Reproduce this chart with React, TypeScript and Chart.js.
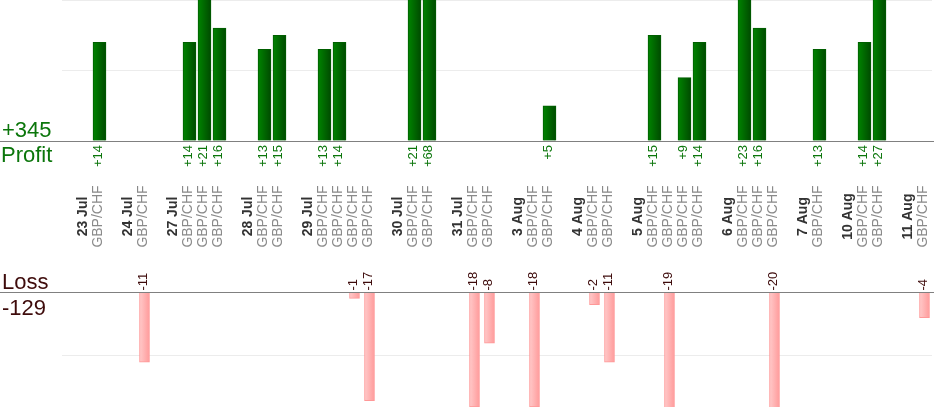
import React, { useEffect, useRef } from "react";
import { Chart, registerables } from "chart.js";

Chart.register(...registerables);

// trading days and the result of each GBP/CHF trade on that day
const dayLabels = [
  "23 Jul", "24 Jul", "27 Jul", "28 Jul", "29 Jul", "30 Jul", "31 Jul",
  "3 Aug", "4 Aug", "5 Aug", "6 Aug", "7 Aug", "10 Aug", "11 Aug",
];
const pairName = "GBP/CHF";
const dayResults = [
  [14], [-11], [14, 21, 16], [13, 15], [13, 14, -1, -17], [21, 68], [-18, -8],
  [-18, 5], [-2, -11], [15, -19, 9, 14], [23, 16, -20], [13], [14, 27], [-4],
];
const profitTicks = [0, 20];
const lossTicks = [-18, 0];

const FONT = "'Liberation Sans', Arial, sans-serif";
const GREEN = "#0b760b";
const MAROON = "#3e0b0b";

type Slot = { kind: "blank" | "date" | "trade"; text: string; value: number | null };

// one blank slot first, then date + trades per day, blank slot between days
const slots: Slot[] = [{ kind: "blank", text: "", value: null }];
dayLabels.forEach((d, i) => {
  slots.push({ kind: "date", text: d, value: null });
  dayResults[i].forEach((v) => slots.push({ kind: "trade", text: pairName, value: v }));
  if (i < dayLabels.length - 1) slots.push({ kind: "blank", text: "", value: null });
});

const allResults = dayResults.flat();
const totalProfit = allResults.filter((v) => v > 0).reduce((a, b) => a + b, 0);
const totalLoss = allResults.filter((v) => v < 0).reduce((a, b) => a + b, 0);

const barFill = (light: string, dark: string, half: number) => (c: any) => {
  const xs = c.chart && c.chart.scales ? c.chart.scales.x : null;
  if (c.type !== "data" || !xs) return dark;
  const cx = xs.getPixelForValue(c.dataIndex);
  if (!Number.isFinite(cx)) return dark;
  const g = c.chart.ctx.createLinearGradient(cx - half, 0, cx + half, 0);
  g.addColorStop(0, light);
  g.addColorStop(1, dark);
  return g;
};

const rotText = (ctx: CanvasRenderingContext2D, text: string, x: number, y: number, align: CanvasTextAlign) => {
  ctx.save();
  ctx.translate(x, y);
  ctx.rotate(-Math.PI / 2);
  ctx.textAlign = align;
  ctx.textBaseline = "middle";
  ctx.fillText(text, 0, 0);
  ctx.restore();
};

const labelsPlugin = {
  id: "tradeLabels",
  afterDatasetsDraw(chart: any) {
    const { ctx, scales, width } = chart;
    const xs = scales.x;
    const p0 = scales.yProfit.getPixelForValue(0);
    const l0 = scales.yLoss.getPixelForValue(0);
    const mid = (scales.yGap.top + scales.yGap.bottom) / 2;
    ctx.save();

    // zero lines across the whole width
    ctx.strokeStyle = "#808080";
    ctx.lineWidth = 1;
    [p0, l0].forEach((y: number) => {
      const yy = Math.round(y) + 0.5;
      ctx.beginPath();
      ctx.moveTo(0, yy);
      ctx.lineTo(width, yy);
      ctx.stroke();
    });

    slots.forEach((s, i) => {
      if (s.kind === "blank") return;
      const x = xs.getPixelForValue(i) - 1;
      if (s.kind === "date") {
        ctx.font = `bold 14px ${FONT}`;
        ctx.fillStyle = "#333333";
        rotText(ctx, s.text, x, mid, "center");
        return;
      }
      ctx.font = `14px ${FONT}`;
      ctx.fillStyle = "#8a8a8a";
      rotText(ctx, s.text, x, mid, "center");
      const v = s.value as number;
      ctx.font = `13px ${FONT}`;
      if (v > 0) {
        ctx.fillStyle = GREEN;
        rotText(ctx, `+${v}`, x, p0 + 4, "right");
      } else {
        ctx.fillStyle = MAROON;
        rotText(ctx, `${v}`, x, l0 - 1.5, "left");
      }
    });

    // totals on the left
    ctx.font = `22px ${FONT}`;
    ctx.textAlign = "left";
    ctx.textBaseline = "alphabetic";
    ctx.fillStyle = GREEN;
    ctx.fillText(`+${totalProfit}`, 2, p0 - 4);
    ctx.fillText("Profit", 1, p0 + 21);
    ctx.fillStyle = MAROON;
    ctx.fillText("Loss", 2, l0 - 3.5);
    ctx.fillText(`${totalLoss}`, 2, l0 + 22.5);
    ctx.restore();
  },
};

const ProfitLossChart: React.FC = () => {
  const canvasRef = useRef<HTMLCanvasElement>(null);
  const chartRef = useRef<Chart | null>(null);

  useEffect(() => {
    if (!canvasRef.current) return;
    if (chartRef.current) chartRef.current.destroy();

    const gridOpts = { color: "#ececec", drawTicks: false };
    chartRef.current = new Chart(canvasRef.current, {
      type: "bar",
      data: {
        labels: slots.map((s) => s.text),
        datasets: [
          {
            label: "Profit",
            data: slots.map((s) => (s.value !== null && s.value > 0 ? s.value : null)),
            yAxisID: "yProfit",
            backgroundColor: barFill("#008400", "#004a00", 6.5),
            borderColor: "#005e00",
            borderWidth: 1,
            barThickness: 13,
            grouped: false,
          },
          {
            label: "Loss",
            data: slots.map((s) => (s.value !== null && s.value < 0 ? s.value : null)),
            yAxisID: "yLoss",
            backgroundColor: barFill("#ffcaca", "#ff9b9b", 5),
            borderColor: "#ff9898",
            borderWidth: 1,
            barThickness: 10,
            grouped: false,
          },
        ],
      },
      options: {
        responsive: true,
        maintainAspectRatio: false,
        animation: false,
        layout: { padding: { left: 62, right: 2, top: 0, bottom: 13 } },
        plugins: { legend: { display: false }, tooltip: { enabled: false } },
        scales: {
          x: { display: false },
          yProfit: {
            position: "left",
            stack: "pl",
            stackWeight: 141,
            weight: 3,
            min: profitTicks[0],
            max: profitTicks[1],
            ticks: { display: false, stepSize: 10 },
            grid: gridOpts,
            border: { display: false },
          },
          yGap: {
            position: "left",
            stack: "pl",
            stackWeight: 151,
            weight: 2,
            display: false,
            min: 0,
            max: 1,
          },
          yLoss: {
            position: "left",
            stack: "pl",
            stackWeight: 115,
            weight: 1,
            min: lossTicks[0],
            max: lossTicks[1],
            ticks: { display: false, stepSize: 10, includeBounds: false },
            grid: gridOpts,
            border: { display: false },
          },
        },
      },
      plugins: [labelsPlugin],
    } as any);

    return () => {
      if (chartRef.current) {
        chartRef.current.destroy();
        chartRef.current = null;
      }
    };
  }, []);

  return (
    <div style={{ position: "absolute", left: 0, top: 0, width: 934, height: 420, background: "#fff" }}>
      <canvas ref={canvasRef}></canvas>
    </div>
  );
};

export default function App() {
  return <ProfitLossChart />;
}
